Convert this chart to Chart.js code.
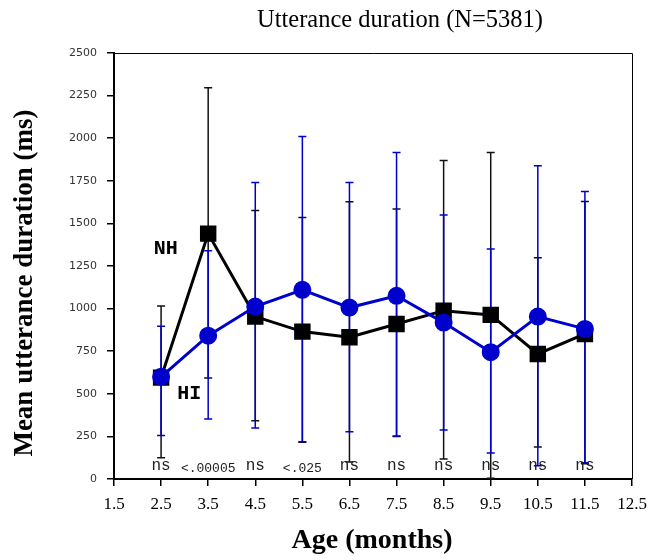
<!DOCTYPE html>
<html>
<head>
<meta charset="utf-8">
<script src="https://cdn.jsdelivr.net/npm/chart.js@4/dist/chart.umd.min.js"></script>
<style>
  body { margin: 0; background: #fff; }
  #wrap { width: 650px; height: 560px; }
</style>
</head>
<body>
<div id="wrap"><canvas id="durationChart" width="650" height="560"></canvas></div>
<script>
// age in months
const ages = [2.5, 3.5, 4.5, 5.5, 6.5, 7.5, 8.5, 9.5, 10.5, 11.5];
const xTicks = [1.5, 2.5, 3.5, 4.5, 5.5, 6.5, 7.5, 8.5, 9.5, 10.5, 11.5, 12.5];

// NH (black squares)
const nhMean = [595, 1440, 953, 865, 832, 910, 988, 963, 734, 851];
const nhHigh = [1015, 2296, 1575, 1534, 1627, 1585, 1869, 1916, 1298, 1628];
const nhLow  = [125, 593, 342, 215, 100, 250, 117, 5, 188, 90];

// HI (blue circles)
const hiMean = [600, 841, 1012, 1110, 1006, 1075, 918, 744, 953, 881];
const hiHigh = [896, 1340, 1740, 2010, 1740, 1916, 1550, 1350, 1838, 1687];
const hiLow  = [255, 352, 299, 219, 278, 252, 288, 153, 78, 96];

// significance per age
const sigLabels = ["ns", "<.00005", "ns", "<.025", "ns", "ns", "ns", "ns", "ns", "ns"];

const yTicks = { min: 0, max: 2500, step: 250 };

let toPoints = function(xs, ys){
    return xs.map((x, i) => ({ x: x, y: ys[i] }));
}

// error bars, drawn under the lines
let errorBarPlugin = {
    id: "errorBars",
    beforeDatasetsDraw: function(chart){
        let ctx = chart.ctx;
        let xs = chart.scales.x, ys = chart.scales.y;
        let sets = [
            { low: nhLow, high: nhHigh, color: "#111111" },
            { low: hiLow, high: hiHigh, color: "#0000cc" }
        ];
        ctx.save();
        for(let s of sets){
            ctx.strokeStyle = s.color;
            ctx.lineWidth = 1.5;
            for(let i = 0; i < ages.length; i++){
                let px = xs.getPixelForValue(ages[i]);
                let top = ys.getPixelForValue(s.high[i]);
                let bot = ys.getPixelForValue(s.low[i]);
                ctx.beginPath();
                ctx.moveTo(px, top); ctx.lineTo(px, bot);
                ctx.moveTo(px - 4, top); ctx.lineTo(px + 4, top);
                ctx.moveTo(px - 4, bot); ctx.lineTo(px + 4, bot);
                ctx.stroke();
            }
        }
        ctx.restore();
    }
};

// texts, frame and labels
let decorPlugin = {
    id: "decor",
    afterDraw: function(chart){
        let ctx = chart.ctx;
        let a = chart.chartArea;
        let xs = chart.scales.x, ys = chart.scales.y;
        ctx.save();
        // thin top / right frame
        ctx.strokeStyle = "#000";
        ctx.lineWidth = 1;
        ctx.beginPath();
        ctx.moveTo(a.left, a.top + 0.5); ctx.lineTo(a.right + 0.5, a.top + 0.5);
        ctx.lineTo(a.right + 0.5, a.bottom);
        ctx.stroke();

        // significance row
        ctx.fillStyle = "#222";
        ctx.textAlign = "center";
        ctx.textBaseline = "middle";
        for(let i = 0; i < ages.length; i++){
            let px = xs.getPixelForValue(ages[i]);
            if(sigLabels[i] == "ns"){
                ctx.font = "16px 'Liberation Mono'";
                ctx.fillText(sigLabels[i], px, a.bottom - 13);
            }else{
                ctx.font = "13px 'Liberation Mono'";
                ctx.fillText(sigLabels[i], px, a.bottom - 10);
            }
        }

        // series labels
        ctx.fillStyle = "#000";
        ctx.font = "bold 20px 'Liberation Mono'";
        ctx.fillText("NH", xs.getPixelForValue(2.6), ys.getPixelForValue(1350));
        ctx.fillText("HI", xs.getPixelForValue(3.1), ys.getPixelForValue(499));

        // titles
        ctx.font = "24.5px 'Liberation Serif'";
        ctx.fillText("Utterance duration (N=5381)", 400, 21);
        ctx.font = "bold 28px 'Liberation Serif'";
        ctx.fillText("Age (months)", 372, 541);
        ctx.font = "bold 27px 'Liberation Serif'";
        ctx.translate(25, 283);
        ctx.rotate(-Math.PI / 2);
        ctx.fillText("Mean utterance duration (ms)", 0, 0);
        ctx.restore();
    }
};

let ctx = document.getElementById("durationChart").getContext("2d");
let myChart = new Chart(ctx, {
    type: "line",
    data: {
        datasets: [{
            label: "HI",
            order: 0,
            data: toPoints(ages, hiMean),
            borderColor: "#0000cc",
            backgroundColor: "#0000cc",
            borderWidth: 3,
            pointStyle: "circle",
            pointRadius: 7.5,
            pointHoverRadius: 7.5,
            tension: 0
        },{
            label: "NH",
            order: 1,
            data: toPoints(ages, nhMean),
            borderColor: "#000",
            backgroundColor: "#000",
            borderWidth: 3,
            pointStyle: "rect",
            pointRadius: 9.5,
            pointHoverRadius: 9.5,
            tension: 0
        }]
    },
    options: {
        responsive: false,
        animation: false,
        events: [],
        layout: { padding: { top: 53, right: 18, left: 0, bottom: 0 } },
        plugins: {
            legend: { display: false },
            title: { display: false },
            tooltip: { enabled: false }
        },
        scales: {
            x: {
                type: "linear",
                min: xTicks[0],
                max: xTicks[xTicks.length - 1],
                afterBuildTicks: function(scale){
                    scale.ticks = xTicks.map(v => ({ value: v }));
                },
                afterFit: function(scale){
                    scale.height = 81;
                    scale.paddingLeft = 0;
                    scale.paddingRight = 0;
                },
                grid: { drawOnChartArea: false, tickLength: 7, color: "#000", lineWidth: 1.5 },
                border: { display: true, color: "#000", width: 2 },
                ticks: {
                    color: "#000",
                    padding: 8,
                    maxRotation: 0,
                    autoSkip: false,
                    font: { family: "'Liberation Serif'", size: 17 },
                    callback: function(v){ return String(v); }
                }
            },
            y: {
                min: yTicks.min,
                max: yTicks.max,
                afterFit: function(scale){ scale.width = 114; },
                grid: { drawOnChartArea: false, tickLength: 7, color: "#000", lineWidth: 1.5 },
                border: { display: true, color: "#000", width: 2 },
                ticks: {
                    stepSize: yTicks.step,
                    color: "#333",
                    padding: 10,
                    font: { family: "'DejaVu Sans'", size: 11 },
                    callback: function(v){ return String(v); }
                }
            }
        }
    },
    plugins: [errorBarPlugin, decorPlugin]
});
</script>
</body>
</html>
